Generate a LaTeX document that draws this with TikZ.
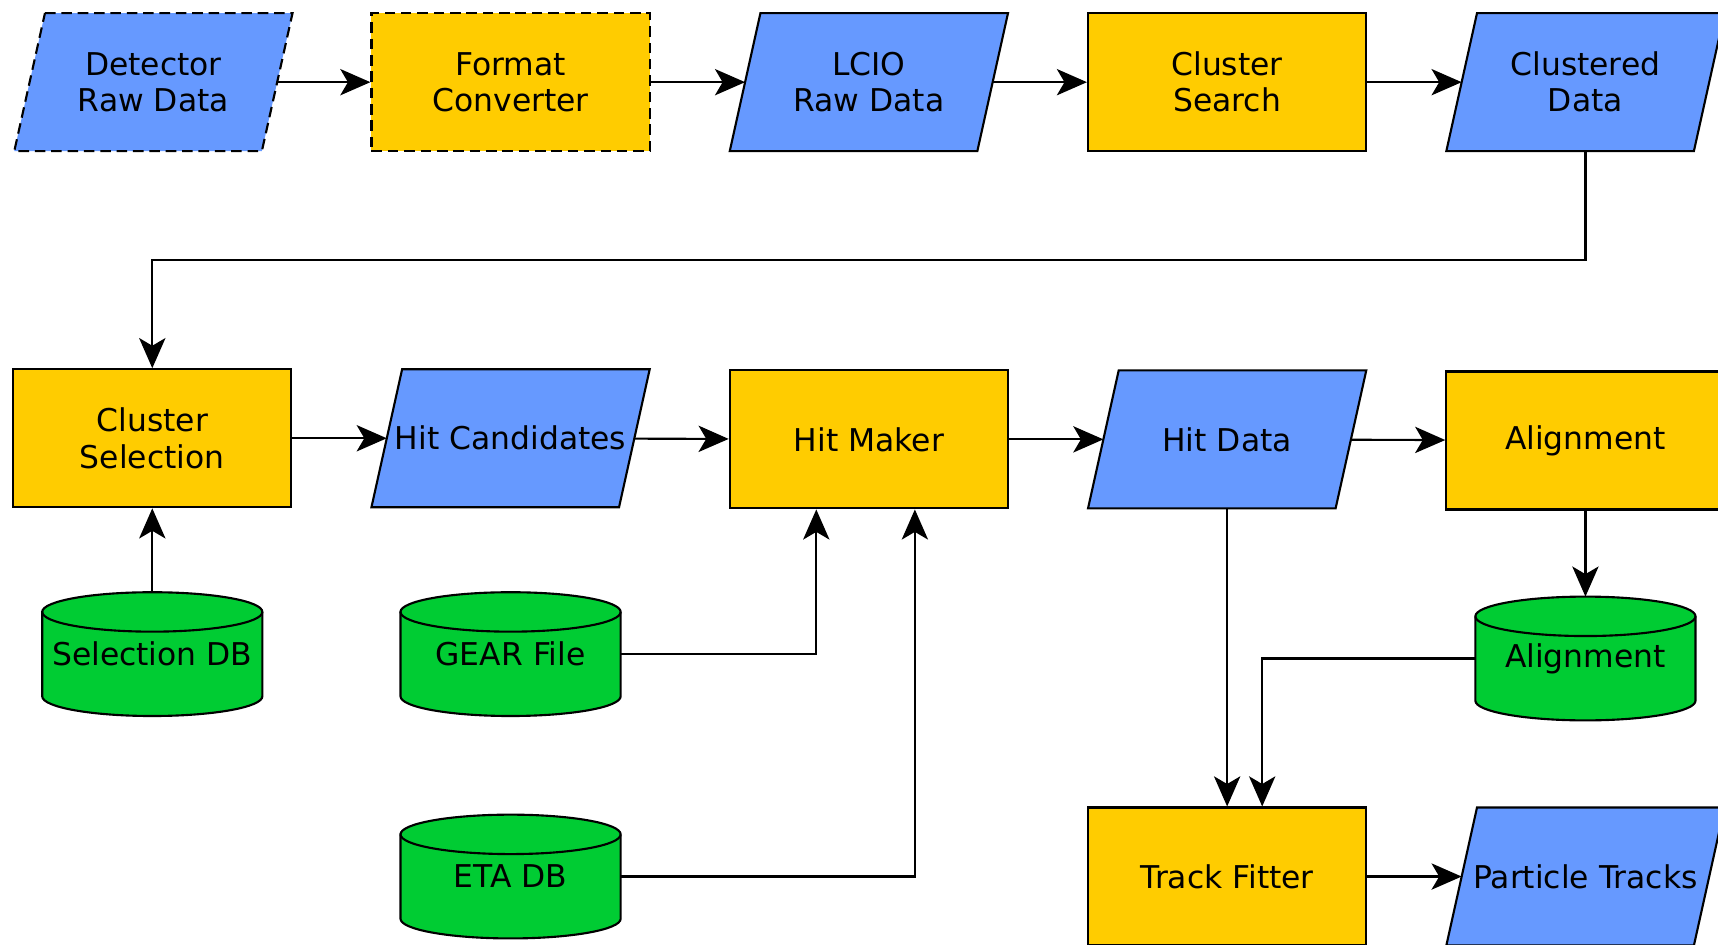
\documentclass[tikz,border=0pt]{standalone}
\usepackage{fontspec}
\setmainfont{DejaVu Sans}
\usetikzlibrary{arrows.meta,backgrounds}
\definecolor{datablue}{HTML}{6699FF}
\definecolor{procyellow}{HTML}{FFCC00}
\definecolor{dbgreen}{HTML}{00CC33}

\tikzset{
  base/.style={line width=1.1pt,inner sep=0pt,align=center,
    font=\fontsize{16.3}{18.8}\selectfont},
  proc/.style={base,draw=black,rectangle,fill=procyellow,minimum width=5.08cm,minimum height=2.52cm},
  dataio/.style={base,rectangle,outer sep=0pt,minimum width=4.52cm,minimum height=2.52cm},
  store/.style={base,rectangle,outer sep=0pt,minimum width=4.02cm,minimum height=2.26cm},
  outline/.style={draw=black,line width=1.1pt},
  loose/.style={dash pattern=on 5.5pt off 3pt},
  flow/.style={line width=1.1pt,-{Stealth[length=0.55cm,width=0.48cm,inset=0.14cm]}}
}

\begin{document}
\begin{tikzpicture}[x=0.02cm,y=-0.02cm]
  \useasboundingbox (0,0) rectangle (1568,862);
  % raw data chain
  \node[dataio] (det) at (140,75) {Detector\\Raw Data};
  \node[proc,loose] (fmt) at (466,75) {Format\\Converter};
  \node[dataio] (lcio) at (793,75) {LCIO\\Raw Data};
  \node[proc] (csearch) at (1120,75) {Cluster\\Search};
  \node[dataio] (clustered) at (1447,75) {Clustered\\Data};
  % hit reconstruction
  \node[proc] (csel) at (139,400) {Cluster\\Selection};
  \node[dataio] (hitcand) at (466,400) {Hit Candidates};
  \node[proc] (hitmaker) at (793,401) {Hit Maker};
  \node[dataio] (hitdata) at (1120,401) {Hit Data};
  \node[proc] (align) at (1447,402) {Alignment};
  % databases
  \node[store] (seldb) at (139,597) {Selection DB};
  \node[store] (gear) at (466,597) {GEAR File};
  \node[store] (eta) at (466,800) {ETA DB};
  \node[store] (aligndb) at (1447,601) {Alignment};
  % tracking
  \node[proc] (fitter) at (1120,800) {Track Fitter};
  \node[dataio] (tracks) at (1447,800) {Particle Tracks};

  \begin{scope}[on background layer]
    % slanted data boxes
    \foreach \d/\pat in {det/loose,lcio/solid,clustered/solid,hitcand/solid,hitdata/solid,tracks/solid} {
      \filldraw[outline,\pat,fill=datablue]
        ([xshift=0.28cm]\d.north west) -- ([xshift=0.28cm]\d.north east)
        -- ([xshift=-0.28cm]\d.south east) -- ([xshift=-0.28cm]\d.south west) -- cycle;
    }
    % cylinders
    \foreach \db in {seldb,gear,eta,aligndb} {
      \filldraw[outline,fill=dbgreen]
        ([yshift=-0.36cm]\db.north west) -- ([yshift=0.36cm]\db.south west)
        arc[start angle=180,end angle=360,x radius=2.01cm,y radius=0.36cm]
        -- ([yshift=-0.36cm]\db.north east)
        arc[start angle=0,end angle=180,x radius=2.01cm,y radius=0.36cm] -- cycle;
      \draw[outline] ([yshift=-0.36cm]\db.north west)
        arc[start angle=180,end angle=360,x radius=2.01cm,y radius=0.36cm];
    }
  \end{scope}

  \draw[flow] (det) -- (fmt);
  \draw[flow] (fmt) -- (lcio);
  \draw[flow] (lcio) -- (csearch);
  \draw[flow] (csearch) -- (clustered);
  \draw[flow] (clustered.south) -- ++(0,99) -| (csel.north);
  \draw[flow] (csel) -- (hitcand);
  \draw[flow] (hitcand) -- (hitmaker);
  \draw[flow] (hitmaker) -- (hitdata);
  \draw[flow] (hitdata) -- (align);
  \draw[flow] (seldb) -- (csel);
  \draw[flow] (gear.east) -| ([xshift=-0.96cm]hitmaker.south);
  \draw[flow] (eta.east) -| ([xshift=0.84cm]hitmaker.south);
  \draw[flow] (align) -- (aligndb);
  \draw[flow] (hitdata.south) -- (fitter.north);
  \draw[flow] (aligndb.west) -| ([xshift=0.64cm]fitter.north);
  \draw[flow] (fitter) -- (tracks);
\end{tikzpicture}
\end{document}
